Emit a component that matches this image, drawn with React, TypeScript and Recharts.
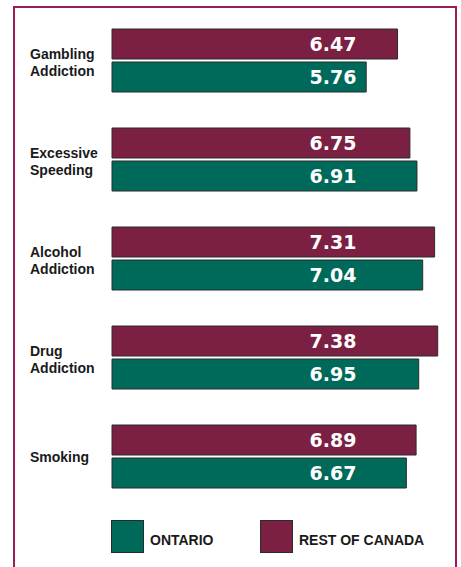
import React from "react";
import { Bar, BarChart, LabelList, XAxis, YAxis } from "recharts";

const categories = ["Gambling Addiction", "Excessive Speeding", "Alcohol Addiction", "Drug Addiction", "Smoking"];
const restOfCanada = [6.47, 6.75, 7.31, 7.38, 6.89];
const ontario = [5.76, 6.91, 7.04, 6.95, 6.67];
const legendItems = ["ONTARIO", "REST OF CANADA"];

const data = categories.map((name, i) => ({
  name,
  restOfCanada: restOfCanada[i],
  ontario: ontario[i],
}));

const MAROON = "#7b2043";
const GREEN = "#006a5a";
const FRAME = "#9b1d58";
const font = "'Liberation Sans', Arial, sans-serif";

const CategoryTick = (props: any) => {
  const { y, payload } = props;
  const words = String(payload.value).split(" ");
  const first = words.length > 1 ? y - 2 : y + 5;
  return (
    <text x={30} y={first} fontFamily={font} fontWeight="bold" fontSize={14} fill="#1a1a1a">
      {words.map((w, i) => (
        <tspan key={i} x={30} y={first + i * 17.5}>
          {w}
        </tspan>
      ))}
    </text>
  );
};

const ValueLabel = (props: any) => {
  const { x, y, height, value } = props;
  return (
    <text
      x={x + 221}
      y={y + height / 2 + 7}
      textAnchor="middle"
      fill="#ffffff"
      fontFamily="'DejaVu Sans', sans-serif"
      fontWeight="bold"
      fontSize={19}
    >
      {value.toFixed(2)}
    </text>
  );
};

const LegendBox = () => (
  <div style={{ position: "absolute", left: 0, top: 520, width: 461, height: 34, fontFamily: font }}>
    {legendItems.map((label, i) => (
      <div
        key={label}
        style={{ position: "absolute", left: i === 0 ? 111 : 260, top: 0, display: "flex", alignItems: "center" }}
      >
        <div
          style={{ width: 31, height: 31, background: i === 0 ? GREEN : MAROON, border: "1px solid #2b2b2b" }}
        />
        <span style={{ marginLeft: 6, marginTop: 6, fontWeight: "bold", fontSize: 14, color: "#1a1a1a" }}>
          {label}
        </span>
      </div>
    ))}
  </div>
);

export default function App() {
  return (
    <div style={{ position: "absolute", left: 0, top: 0, width: 461, height: 567, background: "#fff", overflow: "hidden" }}>
      <div
        style={{
          position: "absolute",
          left: 13,
          top: 6,
          width: 440,
          height: 600,
          borderTop: `2px solid ${FRAME}`,
          borderLeft: `2px solid ${FRAME}`,
          borderRight: `2px solid ${FRAME}`,
        }}
      />
      <BarChart
        width={461}
        height={567}
        data={data}
        layout="vertical"
        barSize={30}
        barGap={3}
        margin={{ top: 11, right: 18, left: 0, bottom: 61 }}
        style={{ position: "absolute", left: 0, top: 0 }}
      >
        <XAxis type="number" domain={[0, 7.5]} hide />
        <YAxis
          type="category"
          dataKey="name"
          width={112}
          axisLine={false}
          tickLine={false}
          tick={<CategoryTick />}
        />
        <Bar dataKey="restOfCanada" fill={MAROON} stroke="#2b2b2b" strokeWidth={1} isAnimationActive={false}>
          <LabelList dataKey="restOfCanada" content={<ValueLabel />} />
        </Bar>
        <Bar dataKey="ontario" fill={GREEN} stroke="#2b2b2b" strokeWidth={1} isAnimationActive={false}>
          <LabelList dataKey="ontario" content={<ValueLabel />} />
        </Bar>
      </BarChart>
      <LegendBox />
    </div>
  );
}
